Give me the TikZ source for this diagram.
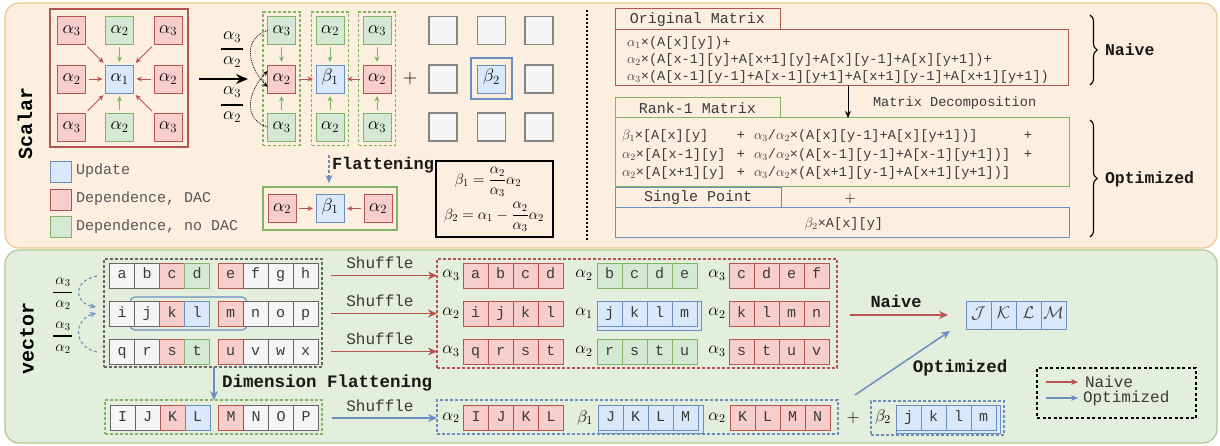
\RequirePackage{fix-cm}
\documentclass[tikz,border=0pt]{standalone}
\usepackage{amsmath}
\usepackage{fontspec}
\newfontfamily\mono{Liberation Mono}
\usetikzlibrary{arrows.meta,fit,decorations.pathreplacing}
\definecolor{redF}{HTML}{F8CECC}
\definecolor{redL}{HTML}{B85450}
\definecolor{greenF}{HTML}{D5E8D4}
\definecolor{greenL}{HTML}{82B366}
\definecolor{blueF}{HTML}{DAE8FC}
\definecolor{blueL}{HTML}{6C8EBF}
\definecolor{grayF}{HTML}{F5F5F5}
\definecolor{grayL}{HTML}{666666}
\definecolor{panelO}{HTML}{FDEFDF}
\definecolor{panelOL}{HTML}{E9C98B}
\definecolor{panelG}{HTML}{E4EEDC}
\definecolor{panelGL}{HTML}{A7CB93}
\definecolor{txt}{HTML}{3A3A3A}
\newcommand\fsz[1]{\fontsize{#1}{#1}\selectfont}
% a run of vector cells: name prefix, first centre x, centre y, style, letters
\newcommand\cellrun[5]{%
  \foreach \t [count=\i] in {#5} {\node[#4] (#1\i) at ({#2+25*(\i-1)},#3) {\t};}}
\tikzset{
  every node/.style={inner sep=0pt, outer sep=0pt},
  mcell/.style={draw, line width=0.8pt, minimum width=28pt, minimum height=28pt,
                font=\fsz{18}, text height=8pt, text depth=2.5pt},
  rc/.style={mcell, fill=redF, draw=redL},
  gc/.style={mcell, fill=greenF, draw=greenL},
  bc/.style={mcell, fill=blueF, draw=blueL},
  xc/.style={mcell, fill=grayF, draw=grayL!80, line width=1.1pt},
  vcell/.style={draw, line width=0.8pt, minimum width=25pt, minimum height=25pt,
                font=\mono\fsz{15}, text=txt, text height=9pt, text depth=2pt},
  xv/.style={vcell, fill=grayF, draw=grayL},
  rv/.style={vcell, fill=redF, draw=redL},
  gv/.style={vcell, fill=greenF, draw=greenL},
  bv/.style={vcell, fill=blueF, draw=blueL},
  smalltip/.style={-{Stealth[length=5.5pt,width=5pt]}},
  rarr/.style={draw=redL, line width=0.9pt, smalltip, shorten <=3pt, shorten >=3pt},
  garr/.style={draw=greenL, line width=0.9pt, smalltip, shorten <=3pt, shorten >=3pt},
  bigred/.style={draw=redL, line width=1.5pt, -{Stealth[length=9pt,width=8pt]}},
  bigblue/.style={draw=blueL, line width=1.5pt, -{Stealth[length=9pt,width=8pt]}},
  greendash/.style={draw=greenL, line width=1.1pt, dash pattern=on 3pt off 2pt},
  monotext/.style={font=\mono\fsz{15}, text=txt},
  codetext/.style={font=\mono\fsz{13.6}, text=txt, anchor=west},
  boldlbl/.style={font=\mono\bfseries\fsz{17}, text=black!90},
  tabbox/.style={draw, line width=1pt, font=\mono\fsz{15}, text=txt},
  bracestyle/.style={decorate, decoration={brace, amplitude=7pt}, line width=1.1pt},
}
\begin{document}
\begin{tikzpicture}[x=1pt,y=-1pt]
\useasboundingbox (0,0) rectangle (1220,446);

% ---------- panels ----------
\draw[fill=panelO, draw=panelOL, line width=1.2pt, rounded corners=14pt] (5,3) rectangle (1217,248);
\draw[fill=panelG, draw=panelGL, line width=1.2pt, rounded corners=14pt] (5,250) rectangle (1217,443);
\node[rotate=90, font=\mono\bfseries\fsz{20}] (scalarlbl) at (25,123) {Scalar};
\node[rotate=90, font=\mono\bfseries\fsz{20}] (vectorlbl) at (27,338) {vector};

% ---------- scalar: full 3x3 stencil ----------
\node[draw=redL, line width=1.1pt, minimum width=138pt, minimum height=138pt] (bigbox) at (119,78) {};
\node[rc] (m11) at (71.5,30.5) {$\alpha_3$};
\node[gc] (m12) at (119.5,30.5) {$\alpha_2$};
\node[rc] (m13) at (168,30.5) {$\alpha_3$};
\node[rc] (m21) at (71.5,79) {$\alpha_2$};
\node[bc] (m22) at (119.5,79) {$\alpha_1$};
\node[rc] (m23) at (168,79) {$\alpha_2$};
\node[rc] (m31) at (71.5,127) {$\alpha_3$};
\node[gc] (m32) at (119.5,127) {$\alpha_2$};
\node[rc] (m33) at (168,127) {$\alpha_3$};
\foreach \n in {m11,m13,m21,m23,m31,m33} \draw[rarr] (\n) -- (m22);
\foreach \n in {m12,m32} \draw[garr] (\n) -- (m22);

% big decomposition arrow and weights
\coordinate (bigS) at (199,79);
\coordinate (bigE) at (248,79);
\draw[line width=1.8pt, -{Stealth[length=12pt,width=10pt]}] (bigS) -- (bigE);
\node[font=\fsz{18}] (fa3) at (232,37) {$\alpha_3$};
\node[font=\fsz{18}] (fa2) at (232,62) {$\alpha_2$};
\draw[line width=1.4pt] (221,49) -- (243,49);
\node[font=\fsz{18}] (fb3) at (232,92) {$\alpha_3$};
\node[font=\fsz{18}] (fb2) at (232,117) {$\alpha_2$};
\draw[line width=1.4pt] (221,105) -- (243,105);

% ---------- scalar: split into columns ----------
\node[gc] (a1) at (281.5,30.5) {$\alpha_3$};
\node[rc] (a2) at (281.5,79) {$\alpha_2$};
\node[gc] (a3) at (281.5,127) {$\alpha_3$};
\node[gc] (b1) at (330,30.5) {$\alpha_2$};
\node[bc] (b2) at (330,79) {$\beta_1$};
\node[gc] (b3) at (330,127) {$\alpha_2$};
\node[gc] (c1) at (377,30.5) {$\alpha_3$};
\node[rc] (c2) at (377,79) {$\alpha_2$};
\node[gc] (c3) at (377,127) {$\alpha_3$};
\node[greendash, fit=(a1)(a3), inner sep=4.5pt] (colA) {};
\node[greendash, fit=(b1)(b3), inner sep=4.5pt] (colB) {};
\node[greendash, fit=(c1)(c3), inner sep=4.5pt] (colC) {};
\foreach \c in {a,b,c} {
  \draw[garr] (\c1) -- (\c2);
  \draw[garr] (\c3) -- (\c2);
}
\draw[rarr] (a2) -- (b2);
\draw[rarr] (c2) -- (b2);
% dotted weight arrows
\draw[densely dotted, line width=0.8pt, -{Stealth[length=5pt,width=4.5pt]}]
  (a1.west) .. controls (244,38) and (246,64) .. ([yshift=-8pt]a2.west);
\draw[densely dotted, line width=0.8pt, -{Stealth[length=5pt,width=4.5pt]}]
  (a3.west) .. controls (244,120) and (246,94) .. ([yshift=8pt]a2.west);

\node[font=\fsz{20}] (plus1) at (410,79) {$+$};

% single-point grid
\foreach \x [count=\i] in {443,491.5,539} {
  \foreach \y [count=\j] in {30.5,79,127} {
    \ifnum\i=2 \ifnum\j=2 \else \node[xc] (g\i\j) at (\x,\y) {}; \fi
    \else \node[xc] (g\i\j) at (\x,\y) {}; \fi
  }
}
\node[draw=blueL, line width=1.2pt, minimum width=41pt, minimum height=41pt] (b2frame) at (491.5,78.5) {};
\node[bc] (g22) at (491.5,79) {$\beta_2$};

% flattening
\coordinate (flS) at (329,155);
\coordinate (flE) at (329,183);
\draw[draw=blueL, line width=1.4pt, dash pattern=on 3pt off 2pt, -{Stealth[length=8pt,width=7pt]}] (flS) -- (flE);
\node[boldlbl, anchor=west] (fllbl) at (332,165) {Flattening};
\node[draw=greenL, line width=1.1pt, minimum width=134pt, minimum height=43pt] (flatbox) at (330,208.5) {};
\node[rc] (f1) at (282,208.5) {$\alpha_2$};
\node[bc] (f2) at (330,208.5) {$\beta_1$};
\node[rc] (f3) at (378,208.5) {$\alpha_2$};
\draw[rarr] (f1) -- (f2);
\draw[rarr] (f3) -- (f2);

% coefficient box
\node[draw=black, line width=1.2pt, minimum width=117pt, minimum height=76pt] (eqbox) at (494.5,199) {};
\node[font=\fsz{15}] (eq1) at (488,182) {$\beta_1=\dfrac{\alpha_2}{\alpha_3}\alpha_2$};
\node[font=\fsz{15}] (eq2) at (494,217) {$\beta_2=\alpha_1-\dfrac{\alpha_2}{\alpha_3}\alpha_2$};

% legend
\node[bc, minimum width=21pt, minimum height=21pt] (lg1) at (61,171.5) {};
\node[rc, minimum width=21pt, minimum height=21pt] (lg2) at (61,199.5) {};
\node[gc, minimum width=21pt, minimum height=21pt] (lg3) at (61,227) {};
\node[monotext, anchor=west, text=txt!85] (lt1) at (76,171) {Update};
\node[monotext, anchor=west, text=txt!85] (lt2) at (76,199) {Dependence, DAC};
\node[monotext, anchor=west, text=txt!85] (lt3) at (76,226.5) {Dependence, no DAC};

% separator
\draw[line width=1.4pt, dash pattern=on 2pt off 2pt] (587,10) -- (587,240);

% ---------- scalar: formulas ----------
\node[tabbox, draw=redL, minimum width=165pt, minimum height=21pt] (origtab) at (697.5,19.5) {Original Matrix};
\node[tabbox, draw=redL, minimum width=453pt, minimum height=56pt] (origbox) at (841.5,58) {};
\node[codetext] (o1) at (627,43) {$\alpha_1$×(A[x][y])+};
\node[codetext] (o2) at (627,59.5) {$\alpha_2$×(A[x-1][y]+A[x+1][y]+A[x][y-1]+A[x][y+1])+};
\node[codetext] (o3) at (627,77) {$\alpha_3$×(A[x-1][y-1]+A[x-1][y+1]+A[x+1][y-1]+A[x+1][y+1])};

\node[tabbox, draw=greenL, minimum width=165pt, minimum height=20pt] (ranktab) at (697.5,108) {Rank-1 Matrix};
\node[tabbox, draw=greenL, minimum width=454pt, minimum height=69pt] (rankbox) at (842,152.5) {};
\draw[line width=1pt, -{Stealth[length=7pt,width=6pt]}] (origbox.south -| 848,0) -- (rankbox.north -| 848,0);
\node[codetext] (mdlbl) at (873,103) {Matrix Decomposition};

\node[codetext] (r1a) at (622,136) {$\beta_1$×[A[x][y]};
\node[codetext] (r2a) at (622,154.5) {$\alpha_2$×[A[x-1][y]};
\node[codetext] (r3a) at (622,173) {$\alpha_2$×[A[x+1][y]};
\foreach \y in {136,154.5,173} \node[codetext, anchor=center] at (741,\y) {+};
\node[codetext] (r1b) at (754,136) {$\alpha_3$/$\alpha_2$×(A[x][y-1]+A[x][y+1])]};
\node[codetext] (r2b) at (754,154.5) {$\alpha_3$/$\alpha_2$×(A[x-1][y-1]+A[x-1][y+1])]};
\node[codetext] (r3b) at (754,173) {$\alpha_3$/$\alpha_2$×(A[x+1][y-1]+A[x+1][y+1])]};
\node[codetext, anchor=center] (r1c) at (1028,136) {+};
\node[codetext, anchor=center] (r2c) at (1028,154.5) {+};

\node[tabbox, draw=blueL, minimum width=166pt, minimum height=20pt] (sptab) at (698,198) {Single Point};
\node[font=\fsz{15}] (plus2) at (850,198.5) {$+$};
\node[tabbox, draw=blueL, minimum width=454pt, minimum height=30pt] (spbox) at (842,223) {};
\node[codetext, anchor=center] (sptext) at (844,224) {$\beta_2$×A[x][y]};

\draw[bracestyle] (1090,15) -- (1090,85);
\node[boldlbl, anchor=west, font=\mono\bfseries\fsz{16.5}] (naivelbl) at (1105,50) {Naive};
\draw[bracestyle] (1090,120) -- (1090,237);
\node[boldlbl, anchor=west, font=\mono\bfseries\fsz{16.5}] (optlbl) at (1105,179) {Optimized};

% ---------- vector: input rows ----------
\node[draw=grayL, line width=1.1pt, dash pattern=on 3pt off 2pt, minimum width=218pt, minimum height=108pt] (inbox) at (213,313) {};
\draw[draw=blueL, line width=1.1pt, rounded corners=5pt] (130,297) rectangle (247,330);
\cellrun{pa}{122}{275.5}{xv}{a,b}
\node[rv] (pa3) at (172,275.5) {c};
\node[gv] (pa4) at (197,275.5) {d};
\node[rv] (pa5) at (230.5,275.5) {e};
\cellrun{pe}{255.5}{275.5}{xv}{f,g,h}
\cellrun{pb}{122}{313.5}{xv}{i,j}
\node[rv] (pb3) at (172,313.5) {k};
\node[bv] (pb4) at (197,313.5) {l};
\node[rv] (pb5) at (230.5,313.5) {m};
\cellrun{pf}{255.5}{313.5}{xv}{n,o,p}
\cellrun{pc}{122}{351.5}{xv}{q,r}
\node[rv] (pc3) at (172,351.5) {s};
\node[gv] (pc4) at (197,351.5) {t};
\node[rv] (pc5) at (230.5,351.5) {u};
\cellrun{pg}{255.5}{351.5}{xv}{v,w,x}

% weights on the left
\node[font=\fsz{15}] (wa3) at (63,282) {$\alpha_3$};
\node[font=\fsz{15}] (wa2) at (63,305) {$\alpha_2$};
\draw[line width=1.1pt] (53,292.5) -- (72,292.5);
\node[font=\fsz{15}] (wb3) at (63,326) {$\alpha_3$};
\node[font=\fsz{15}] (wb2) at (63,349) {$\alpha_2$};
\draw[line width=1.1pt] (53,336) -- (72,336);
\coordinate (cvA) at (97,276);
\coordinate (cvB) at (96,307);
\coordinate (cvC) at (97,352);
\coordinate (cvD) at (96,313);
\draw[draw=blueL, line width=1.1pt, dash pattern=on 3pt off 2.5pt, -{Stealth[length=6pt,width=5.5pt]}]
  (cvA) .. controls (72,281) and (74,303) .. (cvB);
\draw[draw=blueL, line width=1.1pt, dash pattern=on 3pt off 2.5pt, -{Stealth[length=6pt,width=5.5pt]}]
  (cvC) .. controls (72,346) and (74,320) .. (cvD);

% dimension flattening
\draw[bigblue, line width=1.3pt] (inbox.south -| 214,0) -- (214,400);
\node[boldlbl, anchor=west, font=\mono\bfseries\fsz{17.5}] (dflbl) at (222,383) {Dimension Flattening};
\node[draw=greenL, line width=1.1pt, dash pattern=on 3pt off 2pt, minimum width=217pt, minimum height=34pt] (flatrow) at (213.5,417) {};
\cellrun{qa}{122.5}{418}{xv}{I,J}
\node[rv] (qa3) at (172.5,418) {K};
\node[bv] (qa4) at (197.5,418) {L};
\node[rv] (qa5) at (231,418) {M};
\cellrun{qe}{256}{418}{xv}{N,O,P}

% ---------- vector: shuffled operands ----------
\node[draw=redL, line width=1.1pt, dash pattern=on 3pt off 2pt, minimum width=400pt, minimum height=109pt] (naivebox) at (637,313.5) {};
\node[draw=blueL, line width=1.1pt, dash pattern=on 3pt off 2pt, minimum width=401pt, minimum height=34pt] (optbox) at (637.5,417) {};

\foreach \y/\n in {275.5/1,313.5/2,351.5/3} {
  \draw[bigred, shorten <=13pt] (pe3.east |- 0,\y) -- (naivebox.west |- 0,\y) coordinate (sh\n);
  \node[monotext, font=\mono\fsz{16}] (shl\n) at (380,\y-13) {Shuffle};
}
\draw[bigblue, shorten <=13pt] (qe3.east) -- (optbox.west |- qe3.east);
\node[monotext, font=\mono\fsz{16}] (shl4) at (380,406) {Shuffle};

% row 1
\node[font=\fsz{17}] (la1) at (451,275.5) {$\alpha_3$};
\cellrun{sa}{475.5}{275.5}{rv}{a,b,c,d}
\node[font=\fsz{17}] (lb1) at (584,275.5) {$\alpha_2$};
\cellrun{sb}{609.5}{275.5}{gv}{b,c,d,e}
\node[font=\fsz{17}] (lc1) at (717,275.5) {$\alpha_3$};
\cellrun{sc}{741.5}{275.5}{rv}{c,d,e,f}
% row 2
\node[font=\fsz{17}] (la2) at (451,313.5) {$\alpha_2$};
\cellrun{ta}{475.5}{313.5}{rv}{i,j,k,l}
\node[font=\fsz{17}] (lb2) at (584,313.5) {$\alpha_1$};
\draw[fill=blueF, draw=blueL, line width=0.9pt] (597,301) rectangle (701,330.5);
\cellrun{tb}{609.5}{313.5}{bv}{j,k,l,m}
\node[font=\fsz{17}] (lc2) at (717,313.5) {$\alpha_2$};
\cellrun{tc}{741.5}{313.5}{rv}{k,l,m,n}
% row 3
\node[font=\fsz{17}] (la3) at (451,351.5) {$\alpha_3$};
\cellrun{ua}{475.5}{351.5}{rv}{q,r,s,t}
\node[font=\fsz{17}] (lb3) at (584,351.5) {$\alpha_2$};
\cellrun{ub}{609.5}{351.5}{gv}{r,s,t,u}
\node[font=\fsz{17}] (lc3) at (717,351.5) {$\alpha_3$};
\cellrun{uc}{741.5}{351.5}{rv}{s,t,u,v}
% flattened row
\node[font=\fsz{17}] (ld) at (451,418) {$\alpha_2$};
\cellrun{va}{476}{418}{rv}{I,J,K,L}
\node[font=\fsz{17}] (le) at (585,418) {$\beta_1$};
\draw[fill=blueF, draw=blueL, line width=0.9pt] (598,405.5) rectangle (703,433.5);
\cellrun{vb}{610.5}{418}{bv}{J,K,L,M}
\node[font=\fsz{17}] (lf) at (717,418) {$\alpha_2$};
\cellrun{vc}{742.5}{418}{rv}{K,L,M,N}

\node[font=\fsz{18}] (plus3) at (853,418) {$+$};
\node[draw=blueL, line width=1.1pt, dash pattern=on 3pt off 2pt, minimum width=133pt, minimum height=34pt] (ptbox) at (937.5,418) {};
\node[font=\fsz{17}] (lg) at (883,417) {$\beta_2$};
\draw[fill=blueF, draw=blueL, line width=0.9pt] (896,405.5) rectangle (1000,433);
\cellrun{wa}{908.5}{418}{bv}{j,k,l,m}

% ---------- vector: result ----------
\node[bv, minimum height=28pt, font=\fsz{17}] (res1) at (978.5,315) {$\mathcal{J}$};
\node[bv, minimum height=28pt, font=\fsz{17}] (res2) at (1003.5,315) {$\mathcal{K}$};
\node[bv, minimum height=28pt, font=\fsz{17}] (res3) at (1028.5,315) {$\mathcal{L}$};
\node[bv, minimum height=28pt, font=\fsz{17}] (res4) at (1053.5,315) {$\mathcal{M}$};
\draw[bigred, shorten <=13pt, shorten >=18pt] (naivebox.east |- res1.west) -- (res1.west);
\node[boldlbl] (nvlbl) at (896,301) {Naive};
\coordinate (optS) at (855,395);
\coordinate (optE) at (950,331);
\draw[bigblue] (optS) -- (optE);
\node[boldlbl, font=\mono\bfseries\fsz{17.5}] (oplbl) at (960,368) {Optimized};

% legend
\node[draw=black, line width=1.2pt, dash pattern=on 3pt off 2.5pt, minimum width=159pt, minimum height=50pt] (legbox) at (1116.5,393) {};
\coordinate (lgA) at (1046,382);
\coordinate (lgB) at (1078,382);
\coordinate (lgC) at (1046,398);
\coordinate (lgD) at (1078,398);
\draw[draw=redL, line width=1.1pt, -{Stealth[length=7pt,width=6pt]}] (lgA) -- (lgB);
\draw[draw=blueL, line width=1.1pt, -{Stealth[length=7pt,width=6pt]}] (lgC) -- (lgD);
\node[monotext, font=\mono\fsz{16}, anchor=west] (lgn) at (1085,382) {Naive};
\node[monotext, font=\mono\fsz{16}, anchor=west] (lgo) at (1083,398) {Optimized};
\end{tikzpicture}
\end{document}
